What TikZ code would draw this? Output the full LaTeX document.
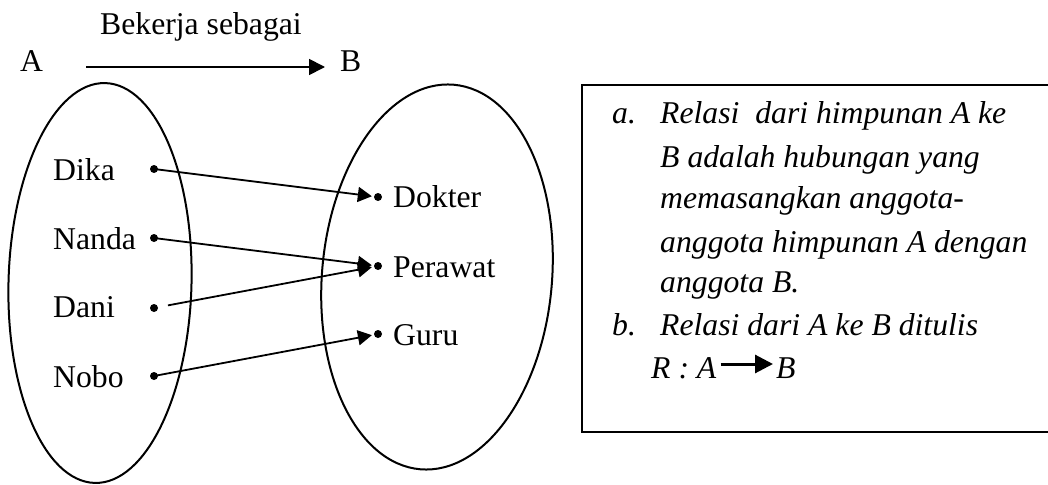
\documentclass[tikz,border=0pt]{standalone}
\usepackage{fontspec}
\setmainfont{Liberation Serif}
\usetikzlibrary{arrows.meta,calc}
\begin{document}
\begin{tikzpicture}[x=1pt,y=1pt,
  lbl/.style={anchor=base west, inner sep=0pt, font=\fontsize{31.7}{38}\selectfont},
  itl/.style={lbl, font=\fontsize{31.7}{38}\selectfont\itshape},
  dot/.style={circle, fill, inner sep=0pt, minimum size=8pt},
  rel/.style={line width=1.8pt, -{Triangle[length=14pt,width=15pt]}},
  setline/.style={line width=2pt}]
\useasboundingbox (0,0) rectangle (1048,-484);
\clip (0,0) rectangle (1048,-484);

% heading: the relation between the two sets
\node[lbl] (cap) at (100,-35) {Bekerja sebagai};
\node[lbl] (A) at (20,-72) {A};
\node[lbl] (B) at (340,-72) {B};
\coordinate (hs) at ($(A.base east)+(43,5)$);
\coordinate (he) at ($(B.base west)+(-15,5)$);
\draw[line width=1.8pt, -{Triangle[length=16pt,width=16pt]}] (hs) -- (he);

% the two sets
\draw[setline, rotate around={-1.5:(100,-283)}] (100,-283) ellipse [x radius=91.5, y radius=200];
\draw[setline, rotate around={-5:(437,-277)}] (437,-277) ellipse [x radius=115, y radius=193];

% members of A
\node[lbl] (tDika) at (53,-180) {Dika};
\node[lbl] (tNanda) at (53,-249) {Nanda};
\node[lbl] (tDani) at (53,-317) {Dani};
\node[lbl] (tNobo) at (53,-387) {Nobo};
\node[dot] (dDika) at (154,-169) {};
\node[dot] (dNanda) at (154,-238) {};
\node[dot] (dDani) at (154,-308) {};
\node[dot] (dNobo) at (154,-376) {};

% members of B
\node[dot] (dDokter) at (378,-197) {};
\node[dot] (dPerawat) at (378,-266) {};
\node[dot] (dGuru) at (378,-334) {};
\node[lbl] (tDokter) at (393,-207) {Dokter};
\node[lbl] (tPerawat) at (393,-277) {Perawat};
\node[lbl] (tGuru) at (393,-345) {Guru};

% pairs of the relation
\draw[rel, shorten >=2pt] (dDika.center) -- (dDokter);
\draw[rel, shorten >=2pt] (dNanda.center) -- (dPerawat);
\draw[rel, shorten <=10pt, shorten >=2pt] (dDani) -- (dPerawat);
\draw[rel, shorten >=2pt] (dNobo.center) -- (dGuru);

% definition box, running off the right edge
\draw[line width=2.2pt] (1060,-85) -- (582,-85) -- (582,-432) -- (1060,-432);
\node[itl] (ia) at (612,-123) {a.};
\node[itl] (a1) at (660,-123) {Relasi\ \ dari himpunan A ke};
\node[itl] (a2) at (660,-167) {B adalah hubungan yang};
\node[itl] (a3) at (660,-208) {memasangkan anggota-};
\node[itl] (a4) at (660,-252) {anggota himpunan A dengan};
\node[itl] (a5) at (660,-292) {anggota B.};
\node[itl] (ib) at (612,-335) {b.};
\node[itl] (b1) at (660,-335) {Relasi dari A ke B ditulis};
\node[itl] (RA) at (651,-378) {R : A};
\node[itl] (RB) at (776,-378) {B};
\coordinate (rs) at ($(RA.base east)+(4,14)$);
\coordinate (re) at ($(RB.base west)+(-3,14)$);
\draw[line width=3pt, -{Triangle[length=18pt,width=18pt]}] (rs) -- (re);
\end{tikzpicture}
\end{document}
